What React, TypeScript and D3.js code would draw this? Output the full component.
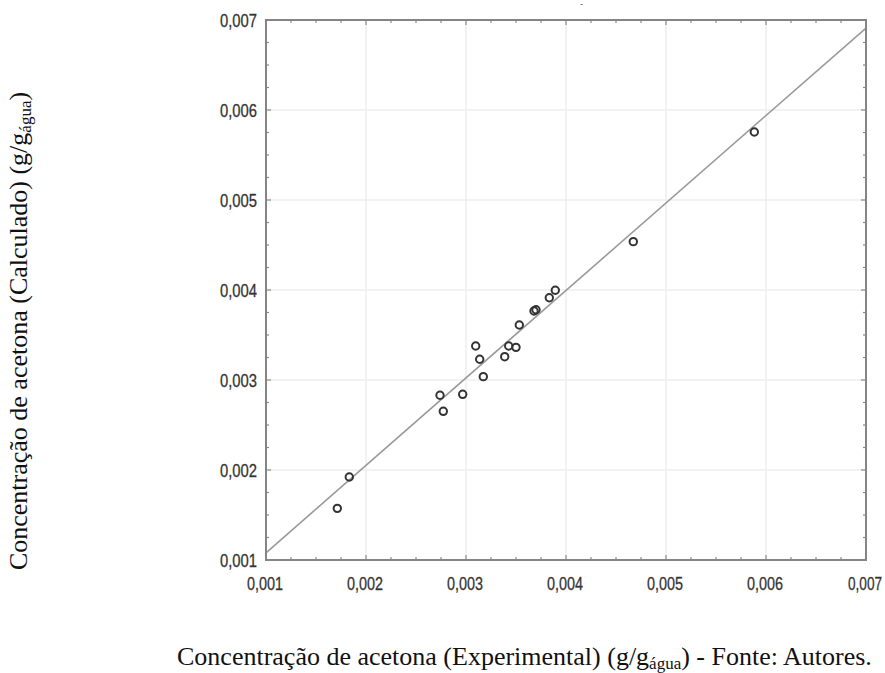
import * as d3 from "d3";

const W = 885;
const H = 673;
const PLOT = { left: 266, right: 866, top: 20, bottom: 560 };

// experimental (x) vs calculated (y) acetone concentration, g/g water
const expValues = [
  0.001713, 0.001833, 0.00274, 0.002773, 0.002967, 0.003097, 0.003137, 0.003173,
  0.003387, 0.003427, 0.0035, 0.003533, 0.00368, 0.0037, 0.003833, 0.003893,
  0.004673, 0.005883,
];
const calcValues = [
  0.001574, 0.001922, 0.00283, 0.002652, 0.002841, 0.003378, 0.00323, 0.003037,
  0.003259, 0.003378, 0.003363, 0.003611, 0.003767, 0.003781, 0.003914, 0.003997,
  0.004537, 0.005756,
];

// fitted line end points
const fitX = [0.001, 0.007];
const fitY = [0.00108, 0.00691];

const majorTicks = [0.001, 0.002, 0.003, 0.004, 0.005, 0.006, 0.007];
const minorStep = 0.00025;

const xTitle = "Concentração de acetona (Experimental) (g/g";
const yTitle = "Concentração de acetona (Calculado) (g/g";
const subText = "água";

const fmt = (v: number) => d3.format(".3f")(v).replace(".", ",");

export default function App() {
  const x = d3.scaleLinear().domain([0.001, 0.007]).range([PLOT.left, PLOT.right]);
  const y = d3.scaleLinear().domain([0.001, 0.007]).range([PLOT.bottom, PLOT.top]);

  const minorTicks = d3.range(0.001, 0.007 + 1e-9, minorStep).filter(
    (t) => !majorTicks.some((m) => Math.abs(m - t) < 1e-9),
  );

  const fitLine = d3
    .line<number>()
    .x((_, i) => x(fitX[i]))
    .y((d) => y(d));

  const tickFont = "'Liberation Sans Narrow', 'Arial Narrow', Arial, sans-serif";
  const serif = "'Liberation Serif', 'Times New Roman', serif";

  return (
    <svg
      width={W}
      height={H}
      style={{ position: "absolute", left: 0, top: 0, background: "#fff" }}
    >
      {/* grid */}
      {majorTicks.slice(1, -1).map((t) => (
        <g key={`g${t}`}>
          <line x1={x(t)} x2={x(t)} y1={PLOT.top} y2={PLOT.bottom} stroke="#eeeeee" strokeWidth={1.5} />
          <line x1={PLOT.left} x2={PLOT.right} y1={y(t)} y2={y(t)} stroke="#eeeeee" strokeWidth={1.5} />
        </g>
      ))}

      {/* fit line */}
      <path d={fitLine(fitY) ?? undefined} fill="none" stroke="#9a9a9a" strokeWidth={1.6} />

      {/* points */}
      {expValues.map((v, i) => (
        <circle key={i} cx={x(v)} cy={y(calcValues[i])} r={3.7} fill="none" stroke="#333" strokeWidth={2} />
      ))}

      {/* ticks, inward on all sides */}
      {[...majorTicks.map((t) => ({ t, len: 5 })), ...minorTicks.map((t) => ({ t, len: 3 }))].map(({ t, len }) => (
        <g key={`t${t}`} stroke="#8a8a8a" strokeWidth={1.2}>
          <line x1={x(t)} x2={x(t)} y1={PLOT.bottom} y2={PLOT.bottom - len} />
          <line x1={x(t)} x2={x(t)} y1={PLOT.top} y2={PLOT.top + len} />
          <line x1={PLOT.left} x2={PLOT.left + len} y1={y(t)} y2={y(t)} />
          <line x1={PLOT.right} x2={PLOT.right - len} y1={y(t)} y2={y(t)} />
        </g>
      ))}

      {/* frame */}
      <rect
        x={PLOT.left}
        y={PLOT.top}
        width={PLOT.right - PLOT.left}
        height={PLOT.bottom - PLOT.top}
        fill="none"
        stroke="#858585"
        strokeWidth={2}
      />

      {/* tick labels */}
      {majorTicks.map((t, i) => {
        const last = i === majorTicks.length - 1;
        return (
          <text
            key={`xl${t}`}
            x={last ? x(t) + 16 : x(t) - 1}
            y={PLOT.bottom + 30}
            textAnchor={last ? "end" : "middle"}
            fontFamily={tickFont}
            fontSize={19}
            fill="#333"
            stroke="#333"
            strokeWidth={0.3}
            textLength={last ? 34 : 36}
            lengthAdjust="spacingAndGlyphs"
          >
            {fmt(t)}
          </text>
        );
      })}
      {majorTicks.map((t) => (
        <text
          key={`yl${t}`}
          x={PLOT.left - 46}
          y={y(t) + 7}
          fontFamily={tickFont}
          fontSize={19}
          fill="#333"
          stroke="#333"
          strokeWidth={0.3}
          textLength={37}
          lengthAdjust="spacingAndGlyphs"
        >
          {fmt(t)}
        </text>
      ))}

      <text x={580} y={7} fontSize={9} fill="#555" fontFamily={tickFont}>-</text>

      {/* axis titles */}
      <text x={177} y={665} fontFamily={serif} fontSize={26} fill="#111">
        {xTitle}
        <tspan fontSize={17} dy={4}>{subText}</tspan>
        <tspan dy={-4}>) - Fonte: Autores.</tspan>
      </text>
      <text
        transform={`translate(27, 331) rotate(-90)`}
        textAnchor="middle"
        fontFamily={serif}
        fontSize={26}
        fill="#111"
      >
        {yTitle}
        <tspan fontSize={17} dy={4}>{subText}</tspan>
        <tspan dy={-4}>)</tspan>
      </text>
    </svg>
  );
}
